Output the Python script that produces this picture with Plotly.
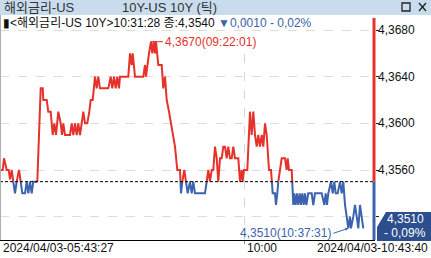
import plotly.graph_objects as go

# ---------------- data ----------------
tick_pos = [1, 2.7, 4, 6.7, 8.7, 10, 11.7, 13.3, 15, 16.7, 19, 20.7, 22.3, 25, 26.7, 28.3, 30, 31.7, 33.3, 37.3,
            40.7, 42.7, 43.3, 46.7, 48.3, 50.7, 52.7, 54.3, 56, 58.3, 60.7, 62, 63.3, 65, 70, 71.7, 73.3, 75, 76.7,
            78.3, 80, 81.7, 83.3, 85, 87.3, 89.3, 90.7, 92.7, 95, 96.7, 98.3, 100, 108.3, 110.7, 112.3, 114, 115.7,
            117.3, 119, 120, 128.3, 130, 131.7, 132.7, 135, 143.3, 145, 146, 147.3, 149, 151, 152.3, 153.7, 155, 156,
            158.3, 161.7, 163.3, 165, 166.7, 169, 171, 173.3, 175, 177.3, 180, 181, 182.3, 184.3, 186, 187.7, 190,
            191.7, 193.3, 195, 205, 206.7, 208.3, 210, 211.7, 213.3, 215, 216.7, 218.3, 220, 221.7, 223.3, 225,
            226.7, 228.3, 230, 231.7, 233.3, 235, 238.3, 240, 241.7, 242.7, 244, 247.3, 250, 251.7, 253.3, 255,
            256.7, 258.3, 260, 261.7, 263.3, 265, 266.7, 269, 271, 272.7, 275, 276, 277.3, 278.3, 280, 281.7, 285,
            286.7, 287.7, 289, 291.7, 293.3, 294.3, 295.7, 297, 298.3, 299.7, 301, 302.3, 303.7, 305, 306.3, 308.3,
            311.7, 313.3, 315, 321.7, 324.3, 325.7, 327, 328.3, 331, 332.7, 334.3, 335.7, 337.7, 340, 341.7, 343.3,
            345, 346.7, 348.3, 350, 351, 353.3, 355, 356.7, 358.3, 360, 361.7, 363.3]
yield_vals = [4.3560, 4.3560, 4.3570, 4.3560, 4.3560, 4.3552, 4.3560, 4.3550, 4.3540, 4.3550, 4.3560, 4.3550,
              4.3540, 4.3540, 4.3550, 4.3540, 4.3550, 4.3540, 4.3550, 4.3550,
              4.3630, 4.3630, 4.3620, 4.3620, 4.3610, 4.3610, 4.3590, 4.3600, 4.3590, 4.3610, 4.3600, 4.3590,
              4.3600, 4.3590, 4.3590, 4.3600, 4.3590, 4.3600, 4.3590, 4.3600, 4.3590, 4.3600, 4.3610, 4.3600,
              4.3600, 4.3610, 4.3620, 4.3620, 4.3640, 4.3630, 4.3640, 4.3630, 4.3630, 4.3640, 4.3630, 4.3640,
              4.3630, 4.3640, 4.3630, 4.3640, 4.3640, 4.3660, 4.3650, 4.3660, 4.3640, 4.3640, 4.3650, 4.3640,
              4.3650, 4.3660, 4.3670, 4.3660, 4.3670, 4.3660, 4.3670, 4.3650, 4.3650, 4.3630, 4.3640, 4.3620,
              4.3610, 4.3600, 4.3590, 4.3580, 4.3560, 4.3560, 4.3540, 4.3550, 4.3560, 4.3550, 4.3540, 4.3550,
              4.3540, 4.3550, 4.3540, 4.3540, 4.3550, 4.3560, 4.3550, 4.3560, 4.3560, 4.3580, 4.3570, 4.3550,
              4.3570, 4.3570, 4.3580, 4.3580, 4.3570, 4.3580, 4.3570, 4.3570, 4.3580, 4.3570, 4.3570, 4.3550,
              4.3560, 4.3550, 4.3560, 4.3560, 4.3610, 4.3590, 4.3610, 4.3590, 4.3580, 4.3590, 4.3580, 4.3590,
              4.3580, 4.3600, 4.3590, 4.3560, 4.3560, 4.3540, 4.3540, 4.3530, 4.3540, 4.3550, 4.3560, 4.3570,
              4.3570, 4.3560, 4.3570, 4.3560, 4.3560, 4.3530, 4.3540, 4.3530, 4.3540, 4.3530, 4.3540, 4.3530,
              4.3540, 4.3530, 4.3540, 4.3530, 4.3540, 4.3540, 4.3530, 4.3540, 4.3540, 4.3530, 4.3540, 4.3530,
              4.3540, 4.3550, 4.3540, 4.3550, 4.3540, 4.3540, 4.3550, 4.3540, 4.3550, 4.3530, 4.3520, 4.3510,
              4.3520, 4.3510, 4.3520, 4.3530, 4.3520, 4.3510, 4.3530, 4.3520, 4.3510]
prev_close = 4.3550
y_tick_vals = [4.3520, 4.3560, 4.3600, 4.3640, 4.3680]
y_tick_text = ["4,3520", "4,3560", "4,3600", "4,3640", "4,3680"]
x_tick_pos = [244]
x_tick_text = ["10:00"]
start_label = "2024/04/03-05:43:27"
end_label = "2024/04/03-10:43:40"
peak_time = "09:22:01"
low_time = "10:37:31"
title_left = "해외금리-US"
title_mid = "10Y-US 10Y (틱)"
info_black = "▮<해외금리-US 10Y>10:31:28 종:4,3540"
info_blue = "▼0,0010 - 0,02%"
last_change = "- 0,09%"

RED = "#e5322b"
BLUE = "#3c63ad"
FONT = "Liberation Sans, Noto Sans CJK KR, sans-serif"

W, H = 431, 258
L, R, T, B = 0, 56, 18, 18
PW, PH = W - L - R, H - T - B
Y0, Y1 = 4.3500, 4.36903


def fx(px):
    return (px - L) / PW


def fy(py):
    return (H - B - py) / PH


def fmt(v):
    return f"{v:.4f}".replace(".", ",")


# ---------------- split line into above / below previous close ----------------
segs = []
for i in range(len(tick_pos) - 1):
    x0, y0, x1, y1 = tick_pos[i], yield_vals[i], tick_pos[i + 1], yield_vals[i + 1]
    if (y0 - prev_close) * (y1 - prev_close) < 0:
        xc = x0 + (prev_close - y0) / (y1 - y0) * (x1 - x0)
        segs.append((x0, y0, xc, prev_close))
        segs.append((xc, prev_close, x1, y1))
    else:
        segs.append((x0, y0, x1, y1))

runs = {"red": ([], []), "blue": ([], [])}
prev_col = None
for x0, y0, x1, y1 in segs:
    col = "blue" if (y0 <= prev_close and y1 <= prev_close) else "red"
    xs, ys = runs[col]
    if col != prev_col:
        if xs:
            xs.append(None)
            ys.append(None)
        xs.append(x0)
        ys.append(y0)
    xs.append(x1)
    ys.append(y1)
    prev_col = col

fig = go.Figure()
fig.add_trace(go.Scatter(x=runs["red"][0], y=runs["red"][1], mode="lines",
                         line=dict(color=RED, width=2), hoverinfo="skip", showlegend=False))
fig.add_trace(go.Scatter(x=runs["blue"][0], y=runs["blue"][1], mode="lines",
                         line=dict(color=BLUE, width=2), hoverinfo="skip", showlegend=False))

peak_i = max(range(len(yield_vals)), key=lambda i: yield_vals[i])
low_i = min(range(len(yield_vals)), key=lambda i: yield_vals[i])

shapes = []
# previous close dashed line
shapes.append(dict(type="line", xref="paper", yref="y", x0=0, x1=1, y0=prev_close, y1=prev_close,
                   line=dict(color="black", width=1, dash="3px,2px")))
# colored right axis bar
shapes.append(dict(type="line", xref="paper", yref="y", x0=fx(374), x1=fx(374), y0=prev_close, y1=Y1,
                   line=dict(color=RED, width=3)))
shapes.append(dict(type="line", xref="paper", yref="y", x0=fx(374), x1=fx(374), y0=Y0, y1=prev_close,
                   line=dict(color=BLUE, width=3)))
# left border
shapes.append(dict(type="line", xref="paper", yref="paper", x0=fx(0.5), x1=fx(0.5), y0=fy(240), y1=fy(15),
                   line=dict(color="#b0b0b0", width=1)))
# title bar
shapes.append(dict(type="rect", xref="paper", yref="paper", x0=fx(0), x1=fx(431), y0=fy(15), y1=fy(0),
                   fillcolor="#c9dcee", line=dict(width=0), layer="above"))
# window icons
shapes.append(dict(type="rect", xref="paper", yref="paper", x0=fx(402), x1=fx(410), y0=fy(11), y1=fy(3),
                   line=dict(color="#222", width=1.3)))
shapes.append(dict(type="line", xref="paper", yref="paper", x0=fx(419), x1=fx(426), y0=fy(11), y1=fy(3),
                   line=dict(color="#222", width=1.3)))
shapes.append(dict(type="line", xref="paper", yref="paper", x0=fx(419), x1=fx(426), y0=fy(3), y1=fy(11),
                   line=dict(color="#222", width=1.3)))
# current value box
path = "M {} {} L {} {} L {} {} L {} {} L {} {} Z".format(
    fx(386), fy(212), fx(431), fy(212), fx(431), fy(241), fx(377), fy(241), fx(377), fy(227))
shapes.append(dict(type="path", xref="paper", yref="paper", path=path,
                   fillcolor="#2c4e8d", line=dict(width=0), layer="above"))

annotations = []
annotations.append(dict(xref="paper", yref="paper", x=fx(2), y=fy(7.5), xanchor="left", yanchor="middle",
                        text=title_left, showarrow=False, font=dict(family=FONT, size=13, color="#333")))
annotations.append(dict(xref="paper", yref="paper", x=fx(120), y=fy(7.5), xanchor="left", yanchor="middle",
                        text=title_mid, showarrow=False, font=dict(family=FONT, size=13, color="#333")))
annotations.append(dict(xref="paper", yref="paper", x=fx(1), y=fy(23), xanchor="left", yanchor="middle",
                        text=info_black + " <span style='color:" + BLUE + "'>" + info_blue + "</span>",
                        showarrow=False, font=dict(family=FONT, size=12, color="#111")))
annotations.append(dict(x=tick_pos[peak_i], y=yield_vals[peak_i], xref="x", yref="y",
                        text=f"{fmt(yield_vals[peak_i])}({peak_time})", showarrow=True, arrowhead=0,
                        arrowcolor=RED, arrowwidth=1, ax=12, ay=0, xanchor="left", yanchor="middle",
                        standoff=0, font=dict(family=FONT, size=12, color=RED)))
annotations.append(dict(x=tick_pos[low_i], y=yield_vals[low_i], xref="x", yref="y",
                        text=f"{fmt(yield_vals[low_i])}({low_time})", showarrow=True, arrowhead=2,
                        arrowsize=0.6, arrowcolor=BLUE, arrowwidth=1, ax=-15, ay=5,
                        xanchor="right", yanchor="middle",
                        standoff=0, font=dict(family=FONT, size=12, color=BLUE)))
annotations.append(dict(xref="paper", yref="paper", x=fx(1), y=fy(248), xanchor="left", yanchor="middle",
                        text=start_label, showarrow=False, font=dict(family=FONT, size=12, color="#111")))
annotations.append(dict(xref="paper", yref="paper", x=fx(430), y=fy(248), xanchor="right", yanchor="middle",
                        text=end_label, showarrow=False, font=dict(family=FONT, size=12, color="#111")))
for p, t in zip(x_tick_pos, x_tick_text):
    annotations.append(dict(xref="x", yref="paper", x=p, y=fy(248), xanchor="left", yanchor="middle",
                            xshift=1, text=t, showarrow=False, font=dict(family=FONT, size=12, color="#111")))
# y tick labels (the lowest one sits behind the current-value box in the reference)
for v, t in zip(y_tick_vals, y_tick_text):
    if v < prev_close:
        continue
    annotations.append(dict(xref="paper", yref="y", x=fx(376), y=v, xanchor="left", yanchor="middle",
                            text=t, showarrow=False, font=dict(family=FONT, size=12, color="#111")))
annotations.append(dict(xref="paper", yref="paper", x=fx(426), y=fy(219), xanchor="right", yanchor="middle",
                        text=fmt(yield_vals[-1]), showarrow=False, font=dict(family=FONT, size=12, color="white")))
annotations.append(dict(xref="paper", yref="paper", x=fx(428), y=fy(233), xanchor="right", yanchor="middle",
                        text=last_change, showarrow=False, font=dict(family=FONT, size=12, color="white")))

fig.update_layout(
    width=W, height=H, margin=dict(l=L, r=R, t=T, b=B),
    paper_bgcolor="white", plot_bgcolor="white",
    shapes=shapes, annotations=annotations,
    xaxis=dict(range=[0, 375], tickvals=x_tick_pos, showticklabels=False,
               ticks="outside", ticklen=3, tickcolor="#888", showgrid=True, gridcolor="#d6d6d6",
               griddash="dash", gridwidth=1, showline=True, linecolor="black", linewidth=1, zeroline=False,
               fixedrange=True),
    yaxis=dict(range=[Y0, Y1], side="right", tickvals=y_tick_vals, showticklabels=False,
               ticks="outside", ticklen=3, tickcolor="#222", showgrid=True, gridcolor="#dcdcdc",
               griddash="dash", gridwidth=1, zeroline=False, showline=False, fixedrange=True),
)

fig.write_html("out.html")
